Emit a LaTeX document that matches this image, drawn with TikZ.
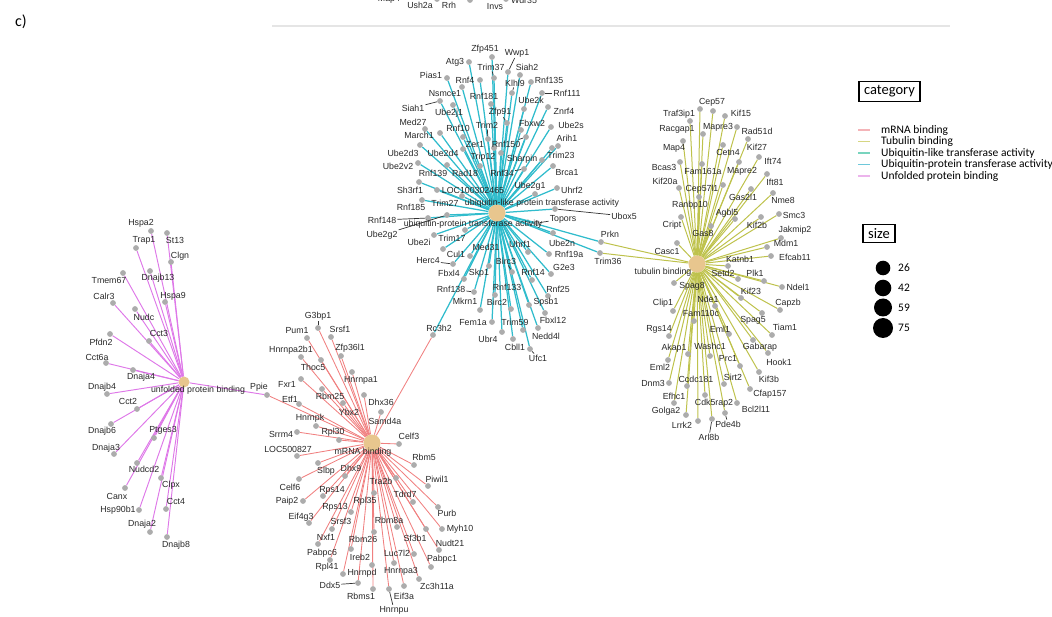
\documentclass[tikz,border=0pt]{standalone}
\usepackage{fontspec}
\setmainfont{Liberation Sans}
\newfontfamily\calfont{Carlito}
\pgfdeclarelayer{bg}
\pgfsetlayers{bg,main}
\definecolor{ubc}{RGB}{48,188,204}
\definecolor{tbc}{RGB}{190,194,76}
\definecolor{mrc}{RGB}{240,128,128}
\definecolor{ufc}{RGB}{222,120,232}
\definecolor{hubc}{RGB}{232,198,142}
\definecolor{dotc}{RGB}{172,172,172}
\definecolor{txtc}{RGB}{40,40,40}
\definecolor{lgA}{RGB}{244,180,184}
\definecolor{lgB}{RGB}{214,214,130}
\definecolor{lgC}{RGB}{120,212,190}
\definecolor{lgD}{RGB}{110,200,218}
\definecolor{lgE}{RGB}{236,180,236}
\newcommand\gn[5]{%
  \node[gdot] (#3) at (#4) {};
  \node[lbl] (#3-t) at (#5) {#3};
  \begin{pgfonlayer}{bg}\draw[#2] (#1) -- (#3);\end{pgfonlayer}}
\begin{document}
\begin{tikzpicture}[x=1pt,y=-1pt,
  gdot/.style={circle,fill=dotc,inner sep=0pt,minimum size=5.8pt},
  lbl/.style={font=\fontsize{8.8}{9}\selectfont,text=txtc,inner sep=1pt},
  hub/.style={circle,fill=hubc,inner sep=0pt},
  ub/.style={draw=ubc,line width=1.25pt},
  tb/.style={draw=tbc,line width=1pt},
  mr/.style={draw=mrc,line width=0.85pt},
  uf/.style={draw=ufc,line width=0.95pt},
  lead/.style={draw=black!80,line width=0.7pt},
  legtxt/.style={font=\calfont\fontsize{11.5}{12}\selectfont,anchor=west,inner sep=0pt},
  boxtxt/.style={font=\calfont\fontsize{14.5}{15}\selectfont,draw=black,line width=1.6pt,inner xsep=5pt,inner ysep=4pt}]
\useasboundingbox (0,0) rectangle (1052,617);

% top strip remnant
\draw[black!10,line width=1.5pt] (272,26) -- (950,26);
\node[gdot] (s6) at (437,-1) {};
\node[gdot] (s7) at (470,0) {};
\node[gdot] (s8) at (506,-1) {};
\node[lbl] (s1) at (389,-1) {Map4};
\node[lbl] (s2) at (420,5.5) {Ush2a};
\node[lbl] (s3) at (449,5.5) {Rrh};
\node[lbl] (s4) at (495,7) {Invs};
\node[lbl] (s5) at (524,0) {Wdr35};
\node[font=\calfont\fontsize{16}{18}\selectfont,inner sep=0pt] (ctag) at (21,22) {c)};

% hubs
\node[hub,minimum size=17pt] (U) at (497,213) {};
\node[hub,minimum size=17pt] (T) at (697,264) {};
\node[hub,minimum size=17pt] (M) at (372,443) {};
\node[hub,minimum size=11pt] (F) at (184,382) {};

% ubiquitin cluster
\gn{U}{ub}{Zfp451}{492,57}{485,49}
\gn{U}{ub}{Wwp1}{508,72}{517,53}
\gn{U}{ub}{Atg3}{469,62}{455,62}
\gn{U}{ub}{Trim37}{494,78}{491,67}
\gn{U}{ub}{Siah2}{520,75}{527,67}
\gn{U}{ub}{Pias1}{447,78}{431,75}
\gn{U}{ub}{Rnf4}{480,80}{465,80}
\gn{U}{ub}{Klhl9}{512,93}{515,83}
\gn{U}{ub}{Rnf135}{531,82}{549,80}
\gn{U}{ub}{Nsmce1}{462,87}{445,94}
\gn{U}{ub}{Rnf181}{491,104}{484,96}
\gn{U}{ub}{Ube2k}{524,109}{531,100}
\gn{U}{ub}{Rnf111}{542,93}{567,93}
\gn{U}{ub}{Ube2j1}{453,105}{449,113}
\gn{U}{ub}{Siah1}{440,101}{413,108}
\gn{U}{ub}{Zfp91}{507,123}{500,112}
\gn{U}{ub}{Znrf4}{548,107}{564,111}
\gn{U}{ub}{Med27}{425,129}{413,122}
\gn{U}{ub}{Rnf10}{463,137}{458,128}
\gn{U}{ub}{Trim2}{488,139}{487,125}
\gn{U}{ub}{Fbxw2}{521,130}{532,123}
\gn{U}{ub}{Ube2s}{551,127}{571,125}
\gn{U}{ub}{Arih1}{558,146}{567,138}
\gn{U}{ub}{March1}{440,133}{419,135}
\gn{U}{ub}{Zer1}{494,148}{475,145}
\gn{U}{ub}{Rnf150}{526,137}{506,144}
\gn{U}{ub}{Ube2d3}{420,145}{403,153}
\gn{U}{ub}{Ube2d4}{463,149}{443,153}
\gn{U}{ub}{Trip12}{501,153}{483,157}
\gn{U}{ub}{Sharpin}{542,160}{522,159}
\gn{U}{ub}{Trim23}{552,148}{561,155}
\gn{U}{ub}{Ube2v2}{418,163}{398,166}
\gn{U}{ub}{Rnf139}{447,165}{433,173}
\gn{U}{ub}{Rad18}{480,166}{465,173}
\gn{U}{ub}{Rnf34}{524,169}{502,173}
\gn{U}{ub}{Brca1}{553,166}{567,173}
\gn{U}{ub}{Sh3rf1}{419,182}{410,190}
\gn{U}{ub}{LOC100302465}{437,190}{473,190}
\gn{U}{ub}{Ube2g1}{535,194}{530,186}
\gn{U}{ub}{Uhrf2}{557,188}{572,190}
\gn{U}{ub}{Rnf185}{422,200}{411,207}
\gn{U}{ub}{Trim27}{462,196}{445,203}
\gn{U}{ub}{Ubox5}{555,209}{624,216}
\gn{U}{ub}{Rnf148}{428,218}{382,220}
\gn{U}{ub}{Topors}{537,223}{563,219}
\gn{U}{ub}{Ube2g2}{447,215}{382,235}
\gn{U}{ub}{Ube2i}{434,235}{419,242}
\gn{U}{ub}{Trim17}{465,230}{452,238}
\gn{U}{ub}{Ube2n}{553,233}{562,243}
\gn{U}{ub}{Prkn}{601,242}{610,234}
\gn{U}{ub}{Trim36}{600,253}{608,261}
\gn{U}{ub}{Cul1}{443,249}{456,254}
\gn{U}{ub}{Med31}{470,256}{486,247}
\gn{U}{ub}{Uhrf1}{528,252}{520,244}
\gn{U}{ub}{Herc4}{453,264}{428,261}
\gn{U}{ub}{Rnf19a}{549,254}{569,254}
\gn{U}{ub}{Birc3}{512,272}{506,261}
\gn{U}{ub}{Fbxl4}{464,279}{449,273}
\gn{U}{ub}{Skp1}{489,266}{479,273}
\gn{U}{ub}{Rnf14}{532,280}{533,272}
\gn{U}{ub}{G2e3}{551,274}{564,267}
\gn{U}{ub}{Rnf138}{474,292}{451,289}
\gn{U}{ub}{Rnf133}{495,295}{507,287}
\gn{U}{ub}{Rnf25}{548,296}{558,289}
\gn{U}{ub}{Mkrn1}{480,310}{465,301}
\gn{U}{ub}{Birc2}{511,309}{497,302}
\gn{U}{ub}{Spsb1}{529,305}{546,302}
\gn{U}{ub}{Rc3h2}{433,335}{439,328}
\gn{U}{ub}{Fem1a}{492,322}{473,323}
\gn{U}{ub}{Trim59}{523,330}{515,322}
\gn{U}{ub}{Fbxl12}{545,313}{553,320}
\gn{U}{ub}{Ubr4}{502,332}{488,339}
\gn{U}{ub}{Nedd4l}{538,328}{546,336}
\gn{U}{ub}{Cbll1}{513,339}{515,347}
\gn{U}{ub}{Ufc1}{530,349}{538,358}
\foreach \g in {Wwp1,Trim37,Klhl9,Rnf111,Siah1,Zfp91,Trim2,Rnf150,Rnf34,Ubox5,Rnf148,Topors,Ube2g2,Herc4,Birc3,Rnf138,Ufc1}
  {\draw[lead] (\g-t) -- (\g);}
\node[lbl] (Ul) at (542,203) {ubiquitin-like protein transferase activity};
\node[lbl] (Up) at (473,224) {ubiquitin-protein transferase activity};

% tubulin cluster
\gn{T}{tb}{Cep57}{713,111}{712,102}
\gn{T}{tb}{Traf3ip1}{700,109}{679,114}
\gn{T}{tb}{Kif15}{725,116}{741,113}
\gn{T}{tb}{Racgap1}{690,121}{677,129}
\gn{T}{tb}{Mapre3}{703,134}{718,127}
\gn{T}{tb}{Rad51d}{737,127}{757,131}
\gn{T}{tb}{Map4}{683,141}{674,148}
\gn{T}{tb}{Cetn4}{723,145}{728,152}
\gn{T}{tb}{Kif27}{748,139}{757,147}
\gn{T}{tb}{Ift74}{759,157}{773,161}
\gn{T}{tb}{Bcas3}{680,162}{664,167}
\gn{T}{tb}{Fam161a}{702,164}{703,171}
\gn{T}{tb}{Mapre2}{739,162}{742,171}
\gn{T}{tb}{Ift81}{767,174}{775,182}
\gn{T}{tb}{Kif20a}{679,188}{665,181}
\gn{T}{tb}{Cep57l1}{723,185}{702,189}
\gn{T}{tb}{Gas2l1}{751,189}{743,197}
\gn{T}{tb}{Nme8}{773,193}{783,200}
\gn{T}{tb}{Ranbp10}{699,197}{690,205}
\gn{T}{tb}{Agbl5}{735,219}{727,213}
\gn{T}{tb}{Smc3}{779,214}{794,215}
\gn{T}{tb}{Cript}{681,217}{672,225}
\gn{T}{tb}{Gas8}{711,226}{703,233}
\gn{T}{tb}{Kif2b}{761,217}{757,225}
\gn{T}{tb}{Jakmip2}{781,238}{795,230}
\gn{T}{tb}{Mdm1}{767,247}{786,243}
\gn{T}{tb}{Casc1}{677,243}{667,251}
\gn{T}{tb}{Katnb1}{728,266}{740,259}
\gn{T}{tb}{Efcab11}{771,256}{795,257}
\gn{T}{tb}{Setd2}{738,279}{723,273}
\gn{T}{tb}{Plk1}{764,281}{755,273}
\gn{T}{tb}{Ndel1}{782,287}{798,287}
\gn{T}{tb}{Spag8}{674,283}{692,286}
\gn{T}{tb}{Kif23}{741,298}{751,291}
\gn{T}{tb}{Clip1}{673,311}{663,303}
\gn{T}{tb}{Nde1}{715,306}{708,299}
\gn{T}{tb}{Capzb}{780,310}{788,303}
\gn{T}{tb}{Fam110c}{694,321}{701,313}
\gn{T}{tb}{Spag5}{762,313}{753,320}
\gn{T}{tb}{Tiam1}{772,335}{785,327}
\gn{T}{tb}{Rgs14}{669,336}{659,329}
\gn{T}{tb}{Eml1}{729,334}{720,329}
\gn{T}{tb}{Gabarap}{753,340}{760,347}
\gn{T}{tb}{Akap1}{688,354}{674,348}
\gn{T}{tb}{Washc1}{710,356}{710,346}
\gn{T}{tb}{Hook1}{768,353}{779,362}
\gn{T}{tb}{Eml2}{668,360}{660,367}
\gn{T}{tb}{Prc1}{740,366}{728,359}
\gn{T}{tb}{Dnm3}{669,383}{653,383}
\gn{T}{tb}{Ccdc181}{687,386}{696,379}
\gn{T}{tb}{Sirt2}{724,384}{733,377}
\gn{T}{tb}{Kif3b}{759,372}{769,379}
\gn{T}{tb}{Efhc1}{674,403}{674,396}
\gn{T}{tb}{Cdk5rap2}{705,395}{714,403}
\gn{T}{tb}{Cfap157}{750,389}{770,394}
\gn{T}{tb}{Golga2}{686,415}{666,411}
\gn{T}{tb}{Bcl2l11}{737,403}{756,409}
\gn{T}{tb}{Pde4b}{725,413}{728,424}
\gn{T}{tb}{Lrrk2}{698,421}{682,425}
\gn{T}{tb}{Arl8b}{712,419}{709,437}
\begin{pgfonlayer}{bg}
\draw[tb] (T) -- (Prkn);
\draw[tb] (T) -- (Trim36);
\end{pgfonlayer}
\draw[lead] (Pde4b-t) -- (Pde4b);
\draw[lead] (Arl8b-t) -- (Arl8b);
\node[lbl] (Tl) at (663,272) {tubulin binding};

% unfolded protein binding cluster
\gn{F}{uf}{Hspa2}{151,231}{141,223}
\gn{F}{uf}{St13}{167,233}{175,240}
\gn{F}{uf}{Trap1}{136,248}{144,240}
\gn{F}{uf}{Clgn}{171,262}{180,256}
\gn{F}{uf}{Tmem67}{123,273}{109,280}
\gn{F}{uf}{Dnajb13}{150,271}{158,278}
\gn{F}{uf}{Calr3}{113,303}{104,296}
\gn{F}{uf}{Hspa9}{165,302}{173,296}
\gn{F}{uf}{Nudc}{135,309}{144,317}
\gn{F}{uf}{Cct3}{149,341}{159,333}
\gn{F}{uf}{Pfdn2}{110,334}{101,342}
\gn{F}{uf}{Cct6a}{106,363}{97,357}
\gn{F}{uf}{Dnaja4}{133,370}{141,377}
\gn{F}{uf}{Dnajb4}{107,394}{102,387}
\gn{F}{uf}{Ppie}{267,395}{259,387}
\gn{F}{uf}{Cct2}{137,409}{128,401}
\gn{F}{uf}{Dnajb6}{111,424}{102,431}
\gn{F}{uf}{Ptges3}{154,438}{163,430}
\gn{F}{uf}{Dnaja3}{114,454}{106,448}
\gn{F}{uf}{Nudcd2}{137,463}{144,469}
\gn{F}{uf}{Clpx}{161,478}{171,485}
\gn{F}{uf}{Canx}{125,488}{117,496}
\gn{F}{uf}{Cct4}{166,509}{176,501}
\gn{F}{uf}{Hsp90b1}{139,510}{118,510}
\gn{F}{uf}{Dnaja2}{150,532}{142,524}
\gn{F}{uf}{Dnajb8}{167,537}{176,545}
\node[lbl] (Fl) at (198,390) {unfolded protein binding};

% mRNA binding cluster
\gn{M}{mr}{G3bp1}{318,328}{318,316}
\gn{M}{mr}{Pum1}{307,338}{297,331}
\gn{M}{mr}{Srsf1}{331,337}{340,329}
\gn{M}{mr}{Hnrnpa2b1}{301,357}{291,350}
\gn{M}{mr}{Zfp36l1}{341,356}{350,348}
\gn{M}{mr}{Thoc5}{321,360}{313,367}
\gn{M}{mr}{Hnrnpa1}{352,372}{361,380}
\gn{M}{mr}{Fxr1}{301,379}{287,384}
\gn{M}{mr}{Rbm25}{322,389}{330,396}
\gn{M}{mr}{Etf1}{299,404}{290,399}
\gn{M}{mr}{Dhx36}{364,395}{381,402}
\gn{M}{mr}{Ybx2}{343,403}{349,412}
\gn{M}{mr}{Hnrnpk}{316,426}{310,418}
\gn{M}{mr}{Samd4a}{381,412}{385,421}
\gn{M}{mr}{Srrm4}{297,432}{281,434}
\gn{M}{mr}{Rpl30}{339,440}{333,432}
\gn{M}{mr}{Celf3}{399,444}{409,436}
\gn{M}{mr}{LOC500827}{297,456}{288,449}
\gn{M}{mr}{Rbm5}{414,465}{424,457}
\gn{M}{mr}{Slbp}{318,463}{326,471}
\gn{M}{mr}{Dhx9}{345,476}{351,468}
\gn{M}{mr}{Celf6}{299,479}{290,487}
\gn{M}{mr}{Tra2b}{396,478}{381,481}
\gn{M}{mr}{Piwil1}{428,486}{437,479}
\gn{M}{mr}{Rps14}{323,496}{332,490}
\gn{M}{mr}{Tdrd7}{413,502}{405,494}
\gn{M}{mr}{Paip2}{303,501}{287,501}
\gn{M}{mr}{Rpl35}{374,493}{365,501}
\gn{M}{mr}{Rps13}{351,512}{335,507}
\gn{M}{mr}{Eif4g3}{309,523}{301,517}
\gn{M}{mr}{Purb}{438,507}{447,513}
\gn{M}{mr}{Srsf3}{332,529}{341,521}
\gn{M}{mr}{Rbm8a}{397,527}{389,520}
\gn{M}{mr}{Myh10}{442,529}{460,529}
\gn{M}{mr}{Nxf1}{318,544}{326,537}
\gn{M}{mr}{Rbm26}{374,532}{363,539}
\gn{M}{mr}{Sf3b1}{426,529}{415,538}
\gn{M}{mr}{Nudt21}{439,550}{450,543}
\gn{M}{mr}{Pabpc6}{330,560}{322,553}
\gn{M}{mr}{Ireb2}{351,549}{360,557}
\gn{M}{mr}{Luc7l2}{414,554}{397,553}
\gn{M}{mr}{Pabpc1}{431,567}{442,559}
\gn{M}{mr}{Rpl41}{343,574}{327,567}
\gn{M}{mr}{Hnrnpd}{372,565}{362,573}
\gn{M}{mr}{Hnrnpa3}{394,563}{401,571}
\gn{M}{mr}{Ddx5}{358,583}{330,585}
\gn{M}{mr}{Zc3h11a}{419,579}{437,586}
\gn{M}{mr}{Rbms1}{373,589}{361,596}
\gn{M}{mr}{Eif3a}{404,586}{404,596}
\gn{M}{mr}{Hnrnpu}{389,589}{394,610}
\begin{pgfonlayer}{bg}
\draw[mr] (M) -- (Ppie);
\draw[mr] (M) -- (Rc3h2);
\end{pgfonlayer}
\draw[lead] (G3bp1-t) -- (G3bp1);
\draw[lead] (Ddx5-t) -- (Ddx5);
\draw[lead] (Hnrnpu-t) -- (Hnrnpu);
\node[lbl] (Ml) at (363,452) {mRNA binding};

% legend
\node[boxtxt] (catbox) at (889.5,91.5) {category};
\draw[lgA,line width=1.2pt] (858,130) -- (870,130);
\draw[lgB,line width=1.2pt] (858,141.5) -- (870,141.5);
\draw[lgC,line width=1.2pt] (858,153) -- (870,153);
\draw[lgD,line width=1.2pt] (858,164.5) -- (870,164.5);
\draw[lgE,line width=1.2pt] (858,176) -- (870,176);
\node[legtxt] (lg1) at (881,130) {mRNA binding};
\node[legtxt] (lg2) at (881,141.5) {Tubulin binding};
\node[legtxt] (lg3) at (881,153) {Ubiquitin-like transferase activity};
\node[legtxt] (lg4) at (881,164.5) {Ubiquitin-protein transferase activity};
\node[legtxt] (lg5) at (881,176) {Unfolded protein binding};
\node[boxtxt] (sizebox) at (879,233.5) {size};
\node[circle,fill=black,inner sep=0pt,minimum size=14.6pt] (c26) at (883,268) {};
\node[circle,fill=black,inner sep=0pt,minimum size=16.6pt] (c42) at (883,288) {};
\node[circle,fill=black,inner sep=0pt,minimum size=18pt] (c59) at (883,307.5) {};
\node[circle,fill=black,inner sep=0pt,minimum size=20pt] (c75) at (883,328) {};
\node[legtxt] (n26) at (898,268) {26};
\node[legtxt] (n42) at (898,288) {42};
\node[legtxt] (n59) at (898,307.5) {59};
\node[legtxt] (n75) at (898,328) {75};
\end{tikzpicture}
\end{document}
